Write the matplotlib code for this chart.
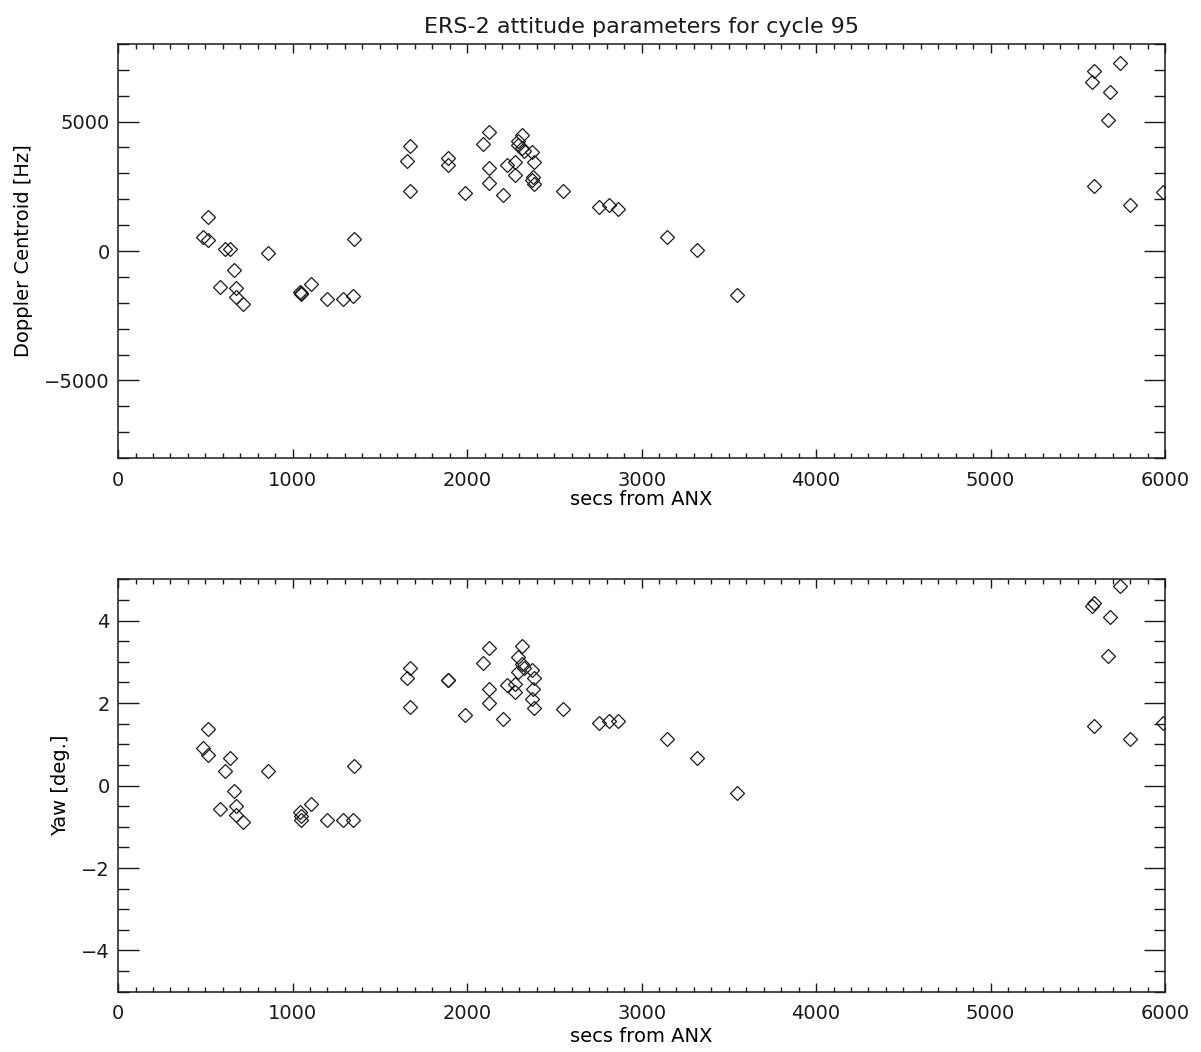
import matplotlib
matplotlib.use('Agg')
import matplotlib.pyplot as plt
from matplotlib.ticker import MultipleLocator

# seconds from ascending node crossing, one entry per measurement
secs = [488, 518, 518, 585, 614, 642, 667, 676, 676, 714,
        861, 1043, 1046, 1050, 1104, 1196, 1288, 1345, 1354, 1655,
        1673, 1673, 1893, 1893, 1989, 2090, 2125, 2125, 2125, 2208,
        2227, 2275, 2275, 2294, 2294, 2313, 2316, 2327, 2371, 2381,
        2377, 2371, 2381, 2552, 2758, 2814, 2864, 3148, 3316, 3544,
        5595, 5583, 5742, 5685, 5675, 5595, 5800, 5990]

# Doppler centroid [Hz]
doppler = [545, 443, 1300, -1400, 66, 66, -751, -1440, -1790, -2050,
           -78, -1595, -1620, -1650, -1270, -1870, -1870, -1725, 455, 3490,
           4050, 2310, 3595, 3335, 2257, 4140, 4600, 3206, 2622, 2167,
           3335, 3424, 2945, 4241, 4100, 4475, 3984, 3852, 3829, 3424,
           2856, 2750, 2595, 2335, 1712, 1778, 1622, 545, 54, -1700,
           6942, 6514, 7253, 6148, 5058, 2517, 1778, 2296]

# yaw [deg.]
yaw = [0.92, 0.74, 1.36, -0.56, 0.36, 0.66, -0.13, -0.49, -0.72, -0.88,
       0.36, -0.65, -0.75, -0.83, -0.45, -0.83, -0.83, -0.83, 0.47, 2.60,
       2.85, 1.90, 2.57, 2.55, 1.72, 2.96, 3.33, 2.33, 1.99, 1.62,
       2.43, 2.47, 2.27, 3.11, 2.76, 3.38, 2.95, 2.85, 2.79, 2.60,
       2.33, 2.10, 1.89, 1.86, 1.52, 1.56, 1.56, 1.14, 0.66, -0.19,
       4.42, 4.36, 4.84, 4.08, 3.13, 1.44, 1.14, 1.52]

ink = '#1a1a1a'
plt.rcParams['font.family'] = 'DejaVu Sans'
plt.rcParams['text.color'] = ink

fig = plt.figure(figsize=(12.01, 10.52), dpi=100)
ax1 = fig.add_axes([0.0983, 0.5646, 0.8718, 0.3936])
ax2 = fig.add_axes([0.0983, 0.0573, 0.8718, 0.3920])


def style(ax, ymajor, yminor):
    ax.set_xlim(0, 6000)
    ax.xaxis.set_major_locator(MultipleLocator(1000))
    ax.xaxis.set_minor_locator(MultipleLocator(100))
    ax.yaxis.set_major_locator(MultipleLocator(ymajor))
    ax.yaxis.set_minor_locator(MultipleLocator(yminor))
    ax.tick_params(which='both', direction='in', top=True, right=True,
                   color=ink, width=1.0, labelsize=14, labelcolor=ink)
    ax.tick_params(axis='x', which='major', length=6.5, pad=9)
    ax.tick_params(axis='x', which='minor', length=3.6)
    ax.tick_params(axis='y', which='major', length=15, pad=6)
    ax.tick_params(axis='y', which='minor', length=8)
    for s in ax.spines.values():
        s.set_linewidth(1.1)
        s.set_color(ink)


ax1.plot(secs, doppler, linestyle='none', marker='D', ms=7,
         mfc='none', mec=ink, mew=0.9)
style(ax1, 5000, 1000)
ax1.set_ylim(-8000, 8000)
ax1.set_ylabel('Doppler Centroid [Hz]', fontsize=14, labelpad=8)
ax1.set_xlabel('secs from ANX', fontsize=14, labelpad=0)
ax1.set_title('ERS-2 attitude parameters for cycle 95', fontsize=16, pad=8)

ax2.plot(secs, yaw, linestyle='none', marker='D', ms=7,
         mfc='none', mec=ink, mew=0.9)
style(ax2, 2, 0.5)
ax2.set_ylim(-5, 5)
ax2.set_ylabel('Yaw [deg.]', fontsize=14, labelpad=8)
ax2.set_xlabel('secs from ANX', fontsize=14, labelpad=3)

fig.savefig('out.png', dpi=100)
